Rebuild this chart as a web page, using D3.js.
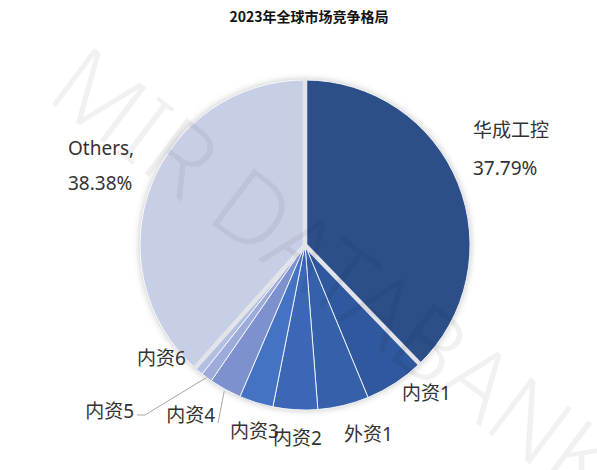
<!DOCTYPE html>
<html>
<head>
<meta charset="utf-8">
<script src="https://cdn.jsdelivr.net/npm/d3@7"></script>
<style>
  html, body { margin: 0; padding: 0; background: #ffffff; }
  svg { display: block; }
</style>
</head>
<body>
<svg id="chart" width="597" height="470"></svg>
<script>
// Market share, 2023 (percent), clockwise from 12 o'clock
const categories = ["华成工控", "内资1", "外资1", "内资2", "内资3", "内资4", "内资5", "内资6", "Others"];
const shares     = [37.79, 5.97, 5.00, 4.36, 3.33, 3.17, 1.10, 0.90, 38.38];
const sliceColors = ["#2c4f8a", "#30589e", "#3561aa", "#3b67b6", "#4573c4", "#7d91ce", "#9dabdb", "#b3bee3", "#c7cfe7"];
const titleText = "2023年全球市场竞争格局";

const width = 597, height = 470;
const cx = 305, cy = 245, radius = 165;
const labelFont = "'Noto Sans', 'Noto Sans CJK SC', sans-serif";

const data = categories.map((name, i) => ({ name, value: shares[i], color: sliceColors[i] }));

const svg = d3.select("#chart");

// Title
svg.append("text")
  .attr("x", 309).attr("y", 22)
  .attr("text-anchor", "middle")
  .attr("font-family", "'Noto Sans CJK SC', sans-serif")
  .attr("font-weight", "bold")
  .attr("font-size", 14)
  .attr("fill", "#111")
  .text(titleText);

const defs = svg.append("defs");
defs.append("filter").attr("id", "soft").attr("x", "-20%").attr("y", "-20%").attr("width", "140%").attr("height", "140%")
  .append("feGaussianBlur").attr("stdDeviation", 3);

const g = svg.append("g").attr("transform", `translate(${cx},${cy})`);

// Soft halo under the pie
g.append("circle").attr("r", radius + 1).attr("fill", "#c9c9cc").attr("filter", "url(#soft)");

const pie = d3.pie().value(d => d.value).sort(null).startAngle(0).endAngle(2 * Math.PI);
const arcs = pie(data);
const arc = d3.arc().innerRadius(0).outerRadius(radius);

g.selectAll("path.slice")
  .data(arcs)
  .join("path")
  .attr("class", "slice")
  .attr("d", arc)
  .attr("fill", d => d.data.color)
  .attr("stroke", "#ffffff")
  .attr("stroke-width", 1)
  .attr("stroke-opacity", 0.85);

// Wide separators around the two large segments
const first = arcs[0], last = arcs[arcs.length - 1];
const sepAngles = [first.startAngle, first.endAngle, last.startAngle];
g.selectAll("line.sep")
  .data(sepAngles)
  .join("line")
  .attr("class", "sep")
  .attr("x1", 0).attr("y1", 0)
  .attr("x2", a => (radius + 1) * Math.sin(a))
  .attr("y2", a => -(radius + 1) * Math.cos(a))
  .attr("stroke", "#e2e4e9")
  .attr("stroke-width", 4.5);

// Labels
const labelPos = {
  "华成工控": { x: 473, y: 137, anchor: "start" },
  "Others":   { x: 68,  y: 155, anchor: "start" },
  "内资1":   { x: 402, y: 400, anchor: "start" },
  "外资1":   { x: 344, y: 441, anchor: "start" },
  "内资2":   { x: 273, y: 445, anchor: "start" },
  "内资3":   { x: 230, y: 438, anchor: "start" },
  "内资4":   { x: 215, y: 422, anchor: "end" },
  "内资5":   { x: 134, y: 418, anchor: "end" },
  "内资6":   { x: 137, y: 365, anchor: "start" }
};
const fmt = v => v.toFixed(2) + "%";

const labels = svg.append("g").attr("font-family", labelFont).attr("font-size", 19).attr("fill", "#333");

arcs.forEach(d => {
  const p = labelPos[d.data.name];
  const t = labels.append("text").attr("x", p.x).attr("y", p.y).attr("text-anchor", p.anchor);
  if (d.data.name === "华成工控") {
    t.text(d.data.name);
    labels.append("text").attr("x", p.x).attr("y", p.y + 38).text(fmt(d.data.value));
  } else if (d.data.name === "Others") {
    t.text(d.data.name + ",");
    labels.append("text").attr("x", p.x).attr("y", p.y + 35).text(fmt(d.data.value));
  } else {
    t.text(d.data.name);
  }
});

// Leader lines for the narrow segments
const edgePoint = (d, r) => {
  const a = (d.startAngle + d.endAngle) / 2;
  return [cx + r * Math.sin(a), cy - r * Math.cos(a)];
};
const leaders = svg.append("g").attr("fill", "none").attr("stroke", "#a6a6a6").attr("stroke-width", 1);
const s4 = arcs[categories.indexOf("内资4")];
const s5 = arcs[categories.indexOf("内资5")];
const e4 = edgePoint(s4, radius + 2);
leaders.append("path").attr("d", d3.line()([e4, [218, 423]]));
const e5 = edgePoint(s5, radius);
leaders.append("path").attr("d", d3.line()([e5, [145, 415], [137, 415]]));

// Watermark (faint, darkens what lies beneath it)
svg.append("text")
  .attr("transform", "translate(44,98) rotate(37)")
  .attr("font-family", "'Noto Sans', sans-serif")
  .attr("font-weight", 300)
  .attr("font-size", 98)
  .attr("fill", "#000")
  .attr("fill-opacity", 0.055)
  .text("MIR DATABANK");
</script>
</body>
</html>
